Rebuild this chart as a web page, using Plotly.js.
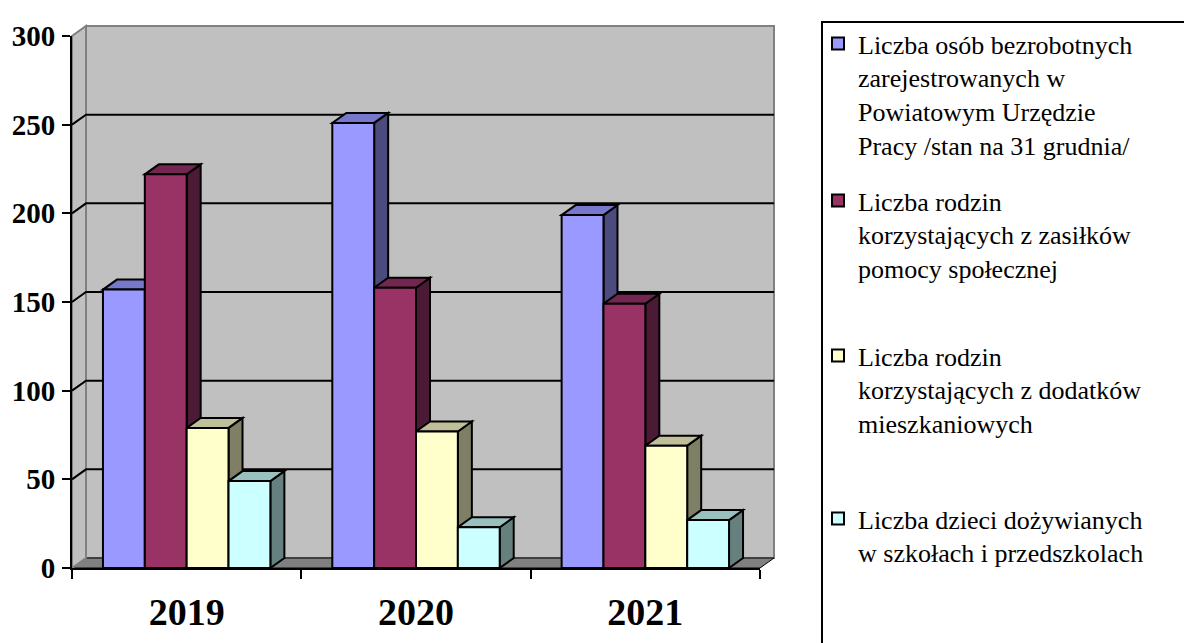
<!DOCTYPE html>
<html><head><meta charset="utf-8">
<script src="https://cdn.plot.ly/plotly-3.0.1.min.js"></script>
<style>html,body{margin:0;padding:0;background:#fff}#chart{width:1184px;height:643px}</style>
</head><body><div id="chart"></div>
<script>
// ---- data ----
const years = ['2019', '2020', '2021'];
const seriesNames = [
  'Liczba osób bezrobotnych<br>zarejestrowanych w<br>Powiatowym Urzędzie<br>Pracy /stan na 31 grudnia/',
  'Liczba rodzin<br>korzystających z zasiłków<br>pomocy społecznej',
  'Liczba rodzin<br>korzystających z dodatków<br>mieszkaniowych',
  'Liczba dzieci dożywianych<br>w szkołach i przedszkolach'
];
const unemployed = [157, 251, 199];
const welfareFamilies = [222, 158, 149];
const housingFamilies = [79, 77, 69];
const childrenMeals = [49, 23, 27];
const yTicks = [0, 50, 100, 150, 200, 250, 300];

// ---- styles ----
const SERIF = 'Liberation Serif, Times New Roman, serif';
const frontColors = ['#9999FF', '#993366', '#FFFFCC', '#CCFFFF'];
const topColors = ['#7777CC', '#732650', '#BFBF99', '#99BFBF'];
const sideColors = ['#4B4B7D', '#4B1A34', '#7F7F66', '#668080'];
const series = [unemployed, welfareFamilies, housingFamilies, childrenMeals];
const legendIds = ['legend', 'legend2', 'legend3', 'legend4'];
const legendTops = [20, 177, 332, 495];   // pixel top of each legend entry

const W = 1184, H = 643;
const M = {l: 72, r: 424, t: 36, b: 75};
const plotW = W - M.l - M.r, plotH = H - M.t - M.b;
const DX = 14, DY = 10;           // 3D depth in pixels
const BARGAP = 0.27;
const YMAX = 300;
const dxp = DX / plotW, dyp = DY / plotH;   // depth in paper units
const ddx = DX * 3 / plotW, ddy = DY * YMAX / plotH; // depth in data units
const pxX = px => (px - M.l) / plotW;
const pxY = py => (H - M.b - py) / plotH;

const traces = series.map((vals, j) => ({
  type: 'bar', x: years, y: vals, name: seriesNames[j],
  legend: legendIds[j],
  marker: {color: frontColors[j], line: {color: '#000', width: 2}},
  hoverinfo: 'skip'
}));

const shapes = [];
// back wall
shapes.push({type: 'rect', xref: 'paper', yref: 'paper', layer: 'below',
  x0: dxp, x1: 1 + dxp, y0: dyp, y1: 1 + dyp,
  fillcolor: '#C0C0C0', line: {color: '#808080', width: 2}});
// floor
shapes.push({type: 'path', xref: 'paper', yref: 'paper', layer: 'below',
  path: `M0,0 L1,0 L${1 + dxp},${dyp} L${dxp},${dyp} Z`,
  fillcolor: '#808080', line: {color: '#000', width: 1}});
// left wall
shapes.push({type: 'path', xref: 'paper', yref: 'paper', layer: 'below',
  path: `M0,0 L0,1 L${dxp},${1 + dyp} L${dxp},${dyp} Z`,
  fillcolor: '#C0C0C0', line: {color: '#808080', width: 2}});
// gridlines on walls
yTicks.filter(v => v > 0 && v < YMAX).forEach(v => {
  const q = v / YMAX;
  shapes.push({type: 'path', xref: 'paper', yref: 'paper', layer: 'below',
    path: `M0,${q} L${dxp},${q + dyp} L${1 + dxp},${q + dyp}`,
    line: {color: '#000', width: 2}});
});
// 3D faces of bars
const groupW = 1 - BARGAP, bw = groupW / series.length;
years.forEach((yr, i) => {
  series.forEach((vals, j) => {
    const v = vals[i];
    const xl = i - groupW / 2 + j * bw, xr = xl + bw;
    shapes.push({type: 'path', xref: 'x', yref: 'y', layer: 'below',
      path: `M${xr},0 L${xr},${v} L${xr + ddx},${v + ddy} L${xr + ddx},${ddy} Z`,
      fillcolor: sideColors[j], line: {color: '#000', width: 2}});
    shapes.push({type: 'path', xref: 'x', yref: 'y', layer: 'below',
      path: `M${xl},${v} L${xr},${v} L${xr + ddx},${v + ddy} L${xl + ddx},${v + ddy} Z`,
      fillcolor: topColors[j], line: {color: '#000', width: 2}});
  });
});
// legend frame
shapes.push({type: 'rect', xref: 'paper', yref: 'paper', layer: 'above',
  x0: pxX(822), x1: pxX(1200), y0: pxY(660), y1: pxY(22),
  line: {color: '#000', width: 2}, fillcolor: 'rgba(0,0,0,0)'});

const layout = {
  width: W, height: H,
  margin: {l: M.l, r: M.r, t: M.t, b: M.b, pad: 0},
  paper_bgcolor: '#fff', plot_bgcolor: 'rgba(0,0,0,0)',
  font: {family: SERIF, color: '#000'},
  barmode: 'group', bargap: BARGAP, bargroupgap: 0,
  showlegend: true,
  xaxis: {type: 'category', range: [-0.5, 2.5], tickson: 'boundaries',
    ticks: 'outside', ticklen: 9, tickwidth: 2, tickcolor: '#000',
    showline: true, linecolor: '#000', linewidth: 2, showgrid: false, zeroline: false,
    tickfont: {family: SERIF, size: 38, color: '#000', weight: 700},
    ticklabelstandoff: 9, fixedrange: true},
  yaxis: {range: [0, YMAX], tickvals: yTicks, ticks: 'outside', ticklen: 8, tickwidth: 2,
    tickcolor: '#000', showline: true, linecolor: '#000', linewidth: 2,
    showgrid: false, zeroline: false,
    tickfont: {family: SERIF, size: 29, color: '#000', weight: 700},
    ticklabelstandoff: 1, fixedrange: true},
  shapes: shapes
};
legendIds.forEach((id, j) => {
  layout[id] = {x: pxX(818), xanchor: 'left', y: pxY(legendTops[j]), yanchor: 'top',
    font: {family: SERIF, size: 26, color: '#000'},
    valign: 'top', bgcolor: 'rgba(0,0,0,0)', borderwidth: 0,
    itemclick: false, itemdoubleclick: false};
});

Plotly.newPlot('chart', traces, layout, {displayModeBar: false, staticPlot: true});
</script>
</body></html>
